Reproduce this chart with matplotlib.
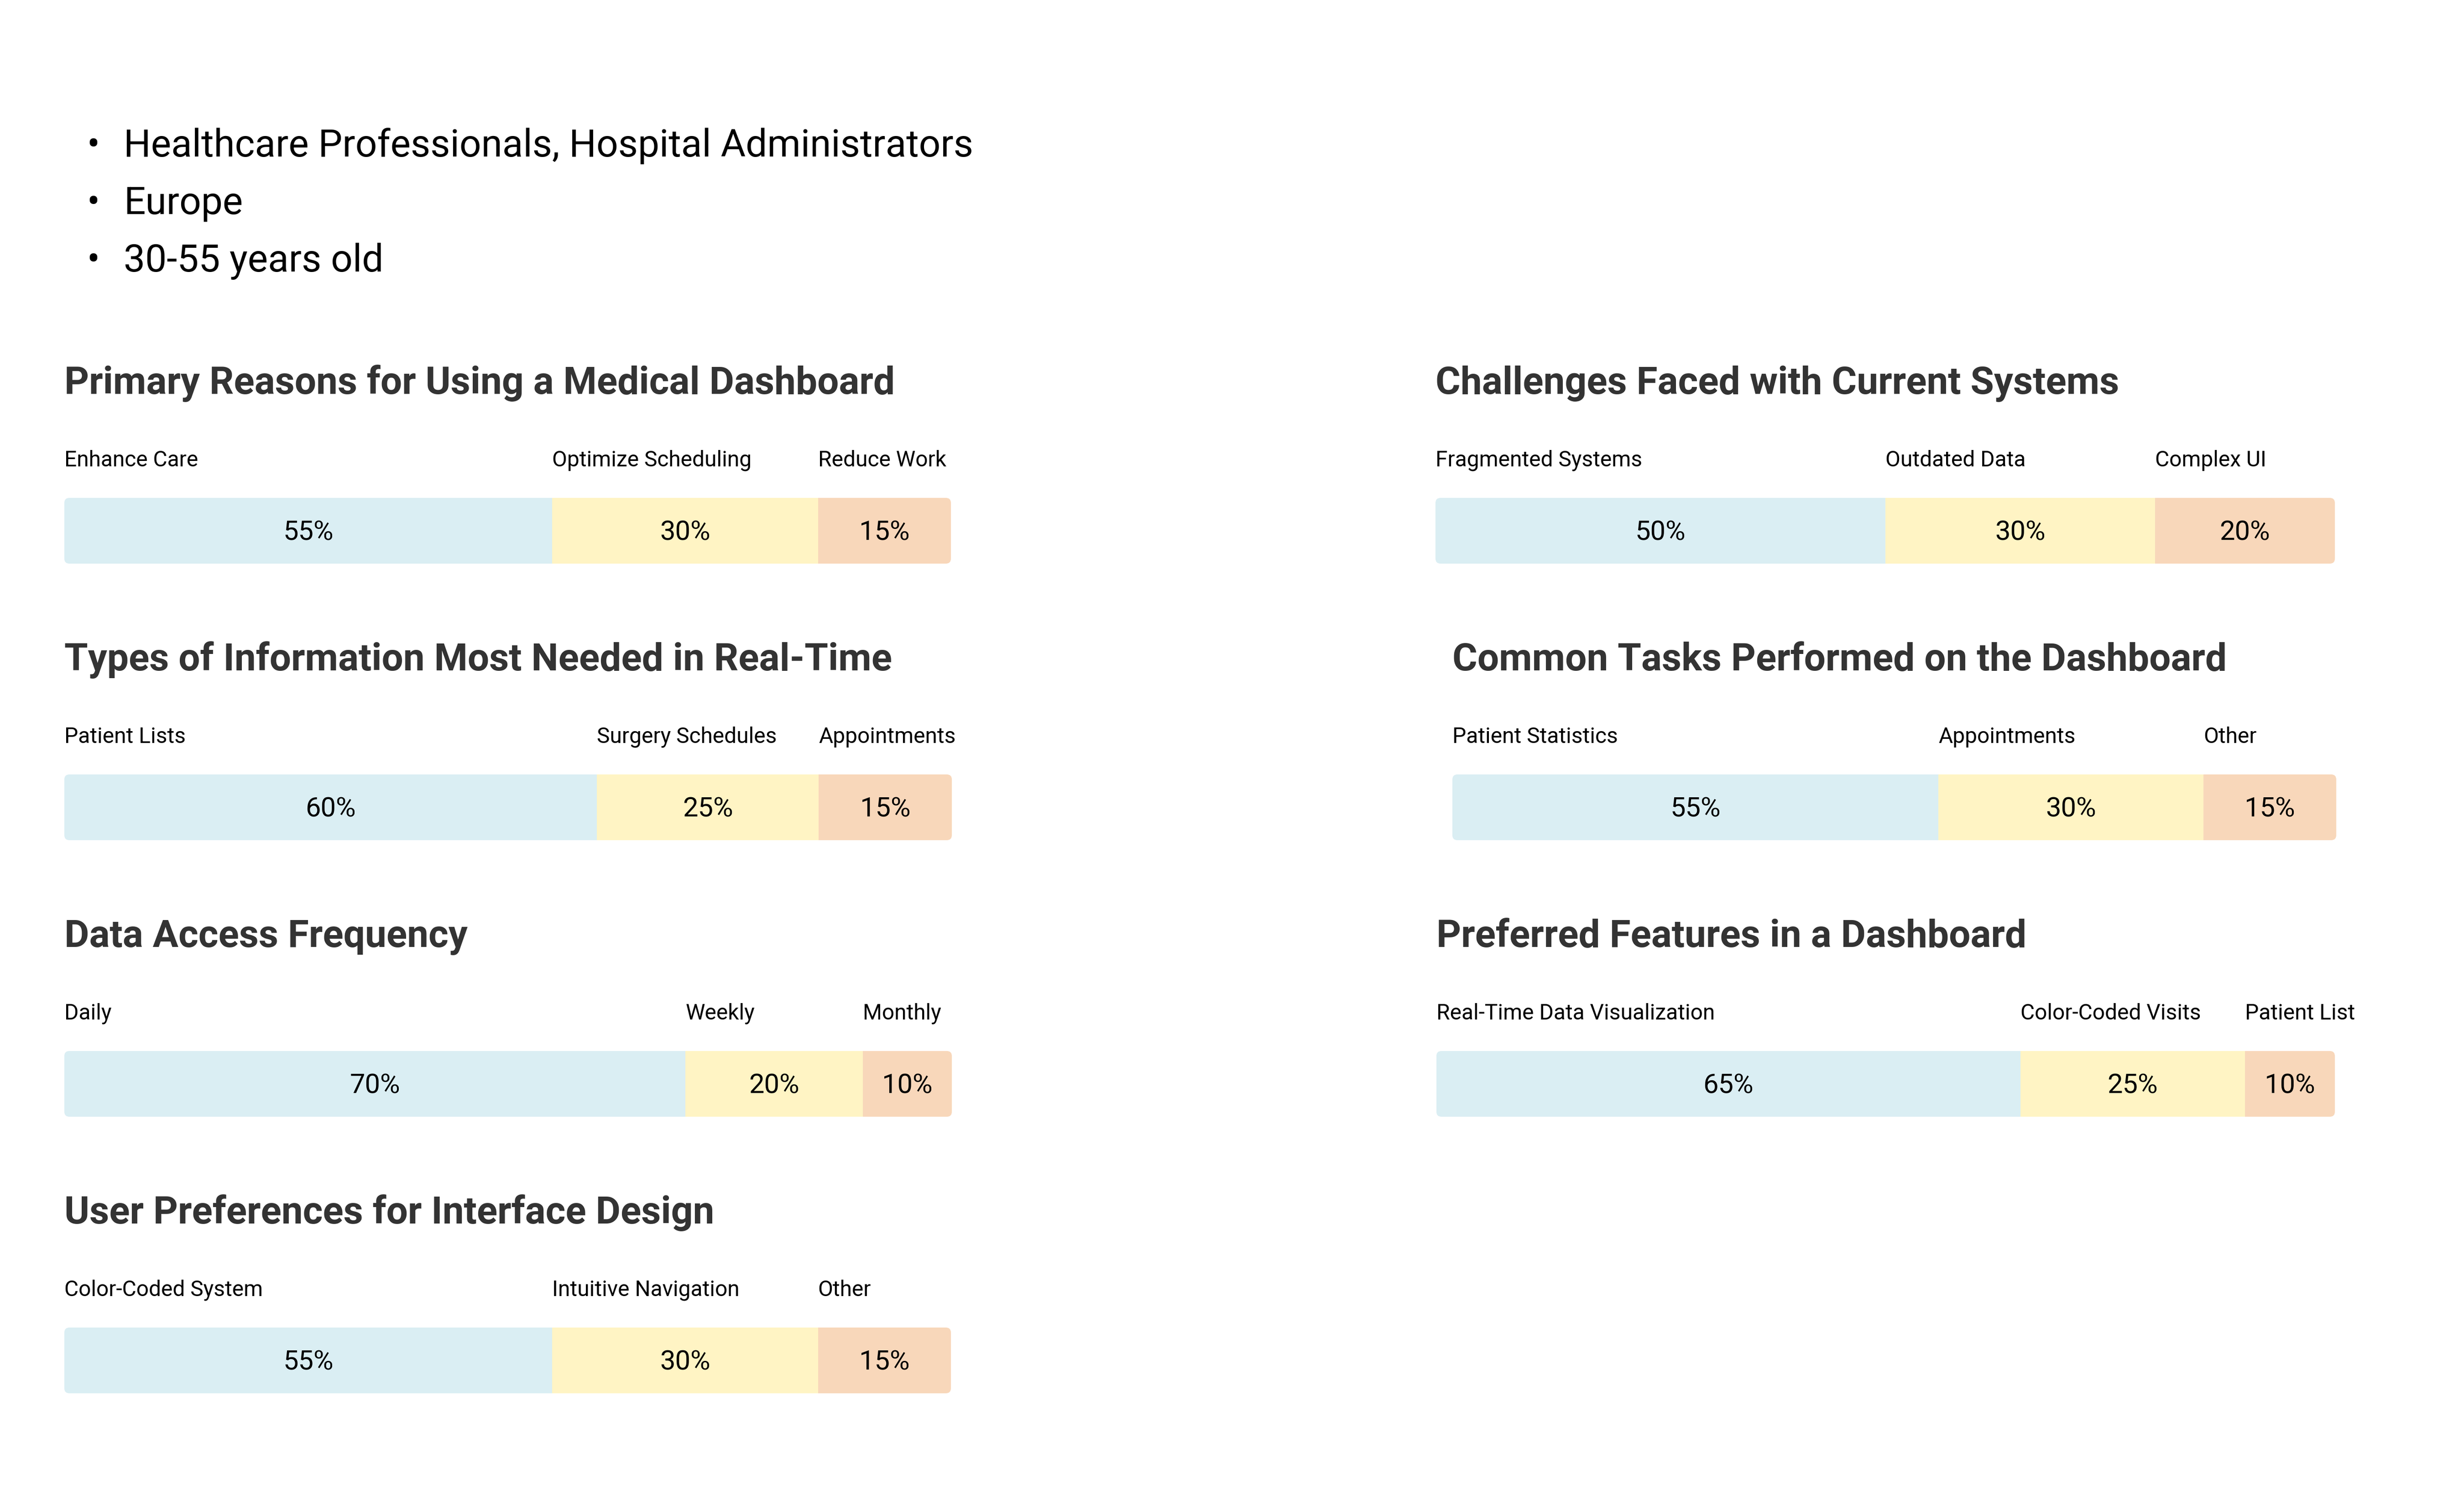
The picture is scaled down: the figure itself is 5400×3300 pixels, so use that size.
import matplotlib
matplotlib.use("Agg")
import matplotlib.pyplot as plt
from matplotlib.patches import FancyBboxPatch
import numpy as np

plt.rcParams['font.family'] = ['Roboto', 'DejaVu Sans']

# audience bullets
audience = ["Healthcare Professionals, Hospital Administrators", "Europe", "30-55 years old"]

# survey sections
titles = [
    "Primary Reasons for Using a Medical Dashboard",
    "Types of Information Most Needed in Real-Time",
    "Data Access Frequency",
    "User Preferences for Interface Design",
    "Challenges Faced with Current Systems",
    "Common Tasks Performed on the Dashboard",
    "Preferred Features in a Dashboard",
]
labels = [
    ["Enhance Care", "Optimize Scheduling", "Reduce Work"],
    ["Patient Lists", "Surgery Schedules", "Appointments"],
    ["Daily", "Weekly", "Monthly"],
    ["Color-Coded System", "Intuitive Navigation", "Other"],
    ["Fragmented Systems", "Outdated Data", "Complex UI"],
    ["Patient Statistics", "Appointments", "Other"],
    ["Real-Time Data Visualization", "Color-Coded Visits", "Patient List"],
]
values = [
    [55, 30, 15],
    [60, 25, 15],
    [70, 20, 10],
    [55, 30, 15],
    [50, 30, 20],
    [55, 30, 15],
    [65, 25, 10],
]
seg_colors = ["#DAEEF3", "#FFF4C4", "#F8D7BA"]

W, H = 5400, 3300
fig = plt.figure(figsize=(18, 11), dpi=300)
fig.patch.set_facecolor("white")

# bullets (pixel layout)
for i, line in enumerate(audience):
    yb = 1 - (343 + 126 * i) / H
    fig.text(204 / W, yb, "\u2022", ha="center", va="baseline", fontsize=20.1, color="black")
    fig.text(271 / W, yb, line, ha="left", va="baseline", fontsize=20.1, color="black")

# bar rectangles in pixels: (left, right, top)
bar_h = 144
pitch = 606
boxes = [
    (141, 2084, 1091),
    (141, 2086, 1091 + pitch),
    (141, 2086, 1091 + 2 * pitch),
    (141, 2084, 1091 + 3 * pitch),
    (3146, 5117, 1091),
    (3183, 5120, 1091 + pitch),
    (3148, 5117, 1091 + 2 * pitch),
]

for title, labs, vals, (x0, x1, top) in zip(titles, labels, values, boxes):
    ax = fig.add_axes([x0 / W, 1 - (top + bar_h) / H, (x1 - x0) / W, bar_h / H])
    ax.set_xlim(0, sum(vals))
    ax.set_ylim(-0.5, 0.5)
    ax.axis("off")

    wpx = x1 - x0
    r = 11
    clip = FancyBboxPatch((0, 0), 1, 1,
                          boxstyle="round,pad=0,rounding_size=%f" % (r / wpx),
                          mutation_aspect=wpx / bar_h,
                          transform=ax.transAxes, facecolor="none", edgecolor="none")
    ax.add_patch(clip)

    lefts = np.concatenate([[0], np.cumsum(vals)[:-1]])
    bars = ax.barh(0, vals, left=lefts, height=1.0, color=seg_colors, linewidth=0)
    for b in bars:
        b.set_clip_path(clip)

    for lab, v, l in zip(labs, vals, lefts):
        ax.text(l + v / 2, 0.36, "%d%%" % v, transform=ax.get_xaxis_transform(),
                ha="center", va="baseline", fontsize=14.3, color="black")
        ax.text(l, 1 + 69 / bar_h, lab, transform=ax.get_xaxis_transform(),
                ha="left", va="baseline", fontsize=11.5, color="black")

    ax.text(0, 1 + 228 / bar_h, title, transform=ax.transAxes, ha="left", va="baseline",
            fontsize=20.1, fontweight="bold", color="#333333")

fig.savefig("out.png", dpi=300, facecolor="white")
